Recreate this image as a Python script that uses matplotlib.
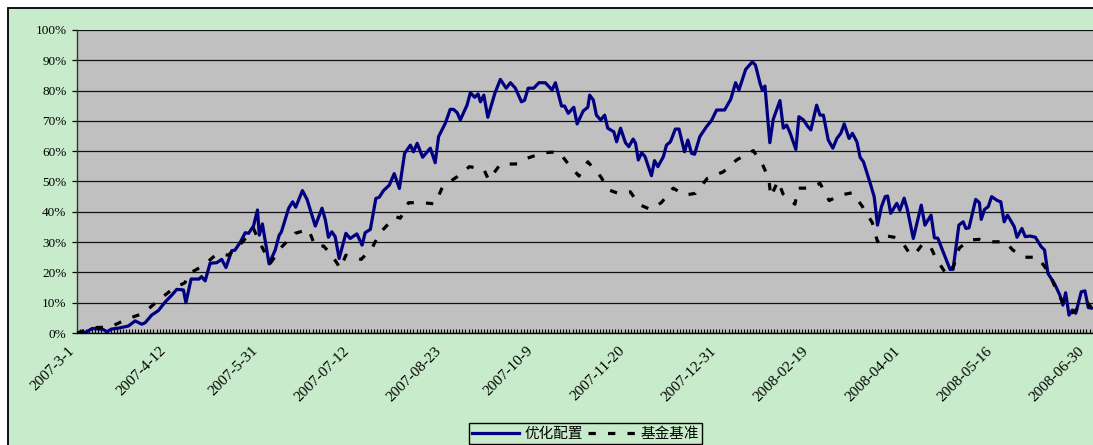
import matplotlib
matplotlib.use("Agg")
import matplotlib.pyplot as plt
from matplotlib.patches import Rectangle
from matplotlib.ticker import FixedLocator, MultipleLocator, FuncFormatter

# ---- data (trading-day index, cumulative return in %) ----
opt_idx = [0, 3, 5, 8.5, 9.7, 11.3, 13.5, 16.8, 19, 21.2, 22.3, 24.4, 26.6, 28.8, 31, 32.6, 34.8, 35.6,
           37.3, 39.9, 40.7, 41.9, 43.5, 45.7, 47.3, 48.7, 50.6, 51.6, 53.3, 55, 56.1, 57.7, 59, 59.6,
           60.6, 62.8, 64.8, 66.1, 66.8, 69.2, 70.5, 71.5, 73.7, 75.2, 77.9, 80.1, 81.2, 82.2, 83.3,
           84.4, 85.7, 87.9, 89.3, 91.5, 93.2, 94.2, 95.9, 97.7, 98.8, 100.2, 102.1, 103.7, 105.4,
           107.1, 109, 110, 111.2, 113, 115.5, 117.1, 118.2, 120.4, 122, 123.1, 124.3, 125.3, 127.5,
           128.6, 130, 131.1, 131.9, 133, 134.3, 136.6, 138.4, 140.3, 141.7, 143.3, 145.3, 146.3,
           147.5, 149.3, 151, 153.1, 155.3, 156.4, 158.4, 159.4, 160.6, 162.4, 163.5, 165.5, 167,
           167.6, 168.8, 169.8, 171.2, 172.5, 173.5, 175.5, 176.4, 177.7, 179.3, 180.4, 181.8, 182.6,
           183.5, 184.6, 185.7, 187.8, 188.8, 189.9, 191.7, 192.7, 194, 195.6, 196.8, 198.6, 199.7,
           200.9, 201.9, 203.6, 205.8, 207.4, 209.1, 211.7, 213.7, 215.3, 216.4, 218.6, 220.8, 221.8,
           223.3, 224, 224.9, 226.5, 227.6, 229.8, 230.9, 232, 233.1, 235, 236, 237.5, 238.8, 239.9,
           241.8, 242.9, 244, 245.6, 247.1, 248.4, 249.7, 250.8, 252.4, 253.5, 255, 256, 257.1,
           259.5, 260.6, 261.7, 263, 264.2, 265, 266, 268, 269, 270.4, 271.4, 273.4, 276, 277.2,
           279.2, 280.3, 281.4, 285.4, 286.4, 288.3, 289.7, 290.6, 291.6, 293.8, 295, 295.6, 296.7,
           297.9, 299, 300.9, 302, 303.1, 304.2, 306.4, 307.3, 308.9, 310, 311.6, 313.3, 315.2,
           316.3, 317.4, 319.6, 321.3, 322.3, 323.2, 324.3, 325.4, 326.5, 328.3, 329.5, 330.6, 331.6]
opt_val = [0, 0.3, 1.5, 1.2, 0.4, 1.3, 1.6, 2.3, 4.0, 2.9, 3.4, 5.9, 7.4, 10.2, 12.5, 14.4, 14.2, 10.0,
           17.8, 17.8, 18.6, 17.2, 23.0, 23.2, 24.3, 21.6, 27.2, 27.3, 29.8, 33.1, 32.9, 35.3, 40.6, 32.3,
           36.0, 22.8, 27.4, 32.3, 33.3, 41.2, 43.3, 41.5, 47.0, 44.1, 35.3, 41.2, 37.3, 31.6, 33.4,
           31.8, 24.6, 32.9, 31.2, 32.7, 29.0, 33.1, 34.2, 44.4, 44.8, 47.0, 48.8, 52.6, 47.7,
           59.3, 62.0, 59.8, 62.6, 58.0, 61.0, 56.2, 64.8, 69.2, 73.8, 73.8, 72.7, 70.3, 75.2,
           79.3, 77.8, 78.9, 76.3, 78.5, 71.2, 79.1, 83.7, 80.8, 82.6, 80.8, 76.3, 76.8,
           80.8, 80.8, 82.6, 82.6, 80.2, 82.6, 74.9, 74.9, 72.5, 74.5, 69.0, 73.3, 74.5,
           78.5, 76.9, 71.9, 70.3, 71.9, 67.6, 66.4, 63.1, 67.6, 62.8, 61.5, 64.0, 62.6,
           57.1, 59.5, 58.2, 51.9, 56.9, 54.9, 58.2, 62.0, 63.1, 67.3, 67.3, 59.8, 63.7,
           59.3, 59.0, 64.8, 68.1, 70.1, 73.6, 73.6, 77.1, 82.6, 80.2, 87.0, 89.5, 88.4,
           82.4, 80.2, 81.5, 62.8, 70.5, 76.7, 67.6, 68.6, 66.1, 60.6, 71.4, 70.3, 68.3, 67.0,
           75.2, 71.9, 71.9, 63.7, 61.0, 64.2, 65.9, 69.0, 64.2, 65.9, 63.0, 58.0, 56.5,
           48.8, 45.0, 35.6, 41.7, 45.0, 45.2, 39.5, 42.8, 40.5, 44.5, 41.0, 31.2, 42.2, 35.6,
           38.9, 31.4, 31.3, 21.0, 21.0, 35.6, 36.7, 34.5, 34.7, 44.1, 43.0, 37.5, 40.8,
           41.7, 45.0, 43.7, 43.3, 36.7, 38.9, 35.1, 31.6, 34.5, 31.8, 32.0, 31.6, 28.5,
           27.4, 19.7, 16.2, 12.5, 9.2, 13.3, 5.9, 7.6, 6.5, 13.6, 13.9, 8.4, 8.2]

bench_idx = [0, 5.3, 10.8, 16.3, 21.7, 26.4, 31.5, 35.3, 36.4, 41.3, 45.7, 49.5, 53.9, 57.7, 59.6,
             63.2, 67, 71.3, 75.7, 77.9, 80.6, 83.3, 86.1, 87.9, 92.9, 96.4, 99.1, 104, 105.7, 108.4,
             113, 117.1, 119.5, 124.3, 128.3, 133, 134.6, 138.4, 143.9, 147.2, 152.6, 157.5, 161,
             164.1, 167, 171.2, 173.9, 176.9, 180.9, 183.6, 187.4, 191, 194.9, 198.7, 202.2, 206,
             211.3, 215.6, 221.1, 224.3, 226.2, 226.8, 229.2, 230.8, 234.7, 235.7, 239.3, 242.9,
             245.9, 249.5, 253.5, 256.8, 260, 261.7, 263.3, 267.1, 269.7, 272, 273.7, 276.6, 279.1,
             280.8, 284.4, 286.7, 288.4, 291.7, 295, 298.5, 303.5, 305.9, 309.5, 314.1, 317.9,
             320.1, 323.1, 325.4, 330, 331.6]
bench_val = [0, 1.8, 1.9, 4.6, 6.5, 10.6, 14.7, 16.6, 19.5, 22.2, 26.1, 25.7, 29.8, 34.5, 30.1,
             23.0, 28.5, 32.9, 34.2, 28.5, 28.7, 25.7, 21.3, 25.7, 24.3, 28.0, 33.1, 38.4, 37.9, 43.0,
             43.0, 42.6, 48.3, 51.6, 54.9, 54.0, 50.5, 55.7, 55.8, 57.7, 59.5, 59.8, 55.3,
             51.8, 56.5, 51.6, 47.2, 46.1, 46.6, 42.5, 40.8, 43.0, 47.8, 45.5, 46.1, 51.0,
             53.2, 57.1, 60.2, 55.2, 50.7, 45.0, 50.2, 45.9, 42.5, 47.8, 47.8, 49.4,
             43.7, 45.5, 46.3, 41.7, 36.4, 30.1, 32.3, 31.6, 30.1, 26.5, 25.7, 29.6, 28.3,
             24.6, 19.1, 22.4, 28.0, 30.7, 30.9, 30.1, 30.1, 27.4, 25.0, 25.0, 19.7,
             14.2, 8.7, 6.7, 10.3, 8.5]

tick_labels = ["2007-3-1", "2007-4-12", "2007-5-31", "2007-07-12", "2007-08-23", "2007-10-9",
               "2007-11-20", "2007-12-31", "2008-02-19", "2008-04-01", "2008-05-16", "2008-06-30"]
tick_step = 30
series_names = ["优化配置", "基金基准"]

# ---- styling ----
W, H = 1093, 445
GREEN = "#C8ECCB"
GRAY = "#C0C0C0"
plt.rcParams["font.family"] = ["Liberation Serif", "Noto Sans CJK SC", "DejaVu Sans"]

fig = plt.figure(figsize=(W / 100, H / 100), dpi=100)
fig.patch.set_facecolor("white")
fig.add_artist(Rectangle((8 / W, -0.1), 1.2, (H - 8) / H + 0.1, transform=fig.transFigure,
                         facecolor=GREEN, edgecolor="black", linewidth=1.3, zorder=-5))

ax = fig.add_axes([77 / W, (H - 333) / H, 1 - 77 / W + 0.001, (333 - 30) / H])
ax.set_facecolor(GRAY)

ax.plot(opt_idx, [v / 100 for v in opt_val], color="#000080", lw=2.3, zorder=3,
        label=series_names[0], solid_joinstyle="round")
ax.plot(bench_idx, [v / 100 for v in bench_val], color="black", lw=2.3, zorder=4,
        dashes=(2.3, 3.8), label=series_names[1])

ax.set_xlim(0, 332.5)
ax.set_ylim(0, 1.0)
ax.yaxis.set_major_locator(MultipleLocator(0.1))
ax.yaxis.set_major_formatter(FuncFormatter(lambda v, p: f"{v * 100:.0f}%"))
ax.grid(axis="y", color="#111111", lw=0.9)
ax.set_axisbelow(True)

ticks = [i * tick_step for i in range(len(tick_labels))]
ax.xaxis.set_major_locator(FixedLocator(ticks))
ax.xaxis.set_minor_locator(MultipleLocator(1))
ax.set_xticklabels(tick_labels, rotation=45, ha="right", va="top", fontsize=11)
ax.tick_params(axis="x", which="both", direction="in", length=3, width=0.8, color="black", pad=8)
ax.tick_params(axis="y", which="major", direction="out", length=3.5, width=0.9, labelsize=9.5, pad=4)

for s in ("top", "right"):
    ax.spines[s].set_visible(False)
ax.spines["left"].set_color("#333333")
ax.spines["bottom"].set_color("black")
ax.spines["left"].set_linewidth(1.0)
ax.spines["bottom"].set_linewidth(1.0)

leg = fig.legend(loc="upper center", bbox_to_anchor=(585.5 / W, (H - 423) / H), ncol=2,
                 frameon=True, fancybox=False, edgecolor="black", facecolor=GREEN, framealpha=1,
                 prop={"family": ["Noto Sans CJK SC", "DejaVu Sans"], "size": 10.5},
                 handlelength=3.2, handletextpad=0.35, columnspacing=0.4, borderpad=0.25,
                 borderaxespad=0)
leg.get_frame().set_linewidth(1.0)

fig.savefig("out.png", dpi=100, facecolor=fig.get_facecolor())
